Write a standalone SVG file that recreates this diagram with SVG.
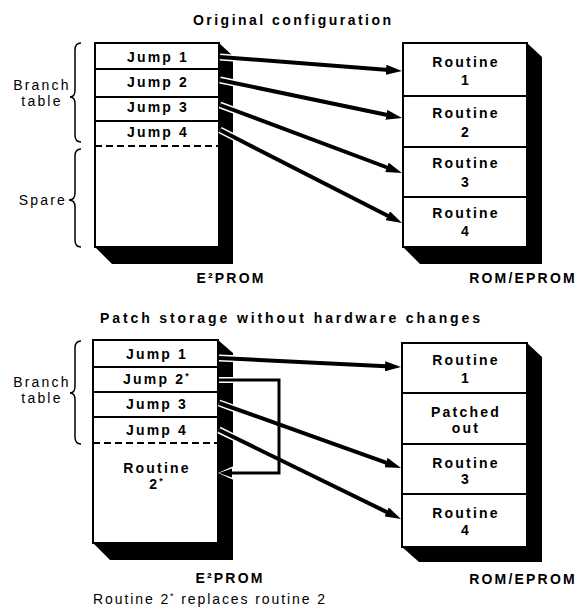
<svg xmlns="http://www.w3.org/2000/svg" width="576" height="609" viewBox="0 0 576 609">
<defs>
<style>
.b{font-family:"Liberation Sans",Arial,sans-serif;font-weight:bold;font-size:14px;letter-spacing:2.2px;fill:#000;text-anchor:middle}
.r{font-family:"Liberation Sans",Arial,sans-serif;font-size:14px;letter-spacing:2.2px;fill:#000}
.face{fill:#fff;stroke:#000;stroke-width:2}
.shadow{fill:#000}
.div{stroke:#000;stroke-width:2;fill:none}
.dash{stroke:#000;stroke-width:2;fill:none;stroke-dasharray:7 4}
.brace{stroke:#000;stroke-width:1.5;fill:none}
.arrow{stroke:#000;stroke-width:4;fill:none;marker-end:url(#ah)}
.case{stroke:#fff;stroke-width:7;fill:none}
.patch{stroke:#000;stroke-width:3;fill:none}
</style>
<marker id="ah" markerUnits="userSpaceOnUse" markerWidth="16" markerHeight="10" refX="6" refY="5" orient="auto" viewBox="0 0 16 10">
<path d="M0,0 L16,5 L0,10 z" fill="#000"/>
</marker>
</defs>

<text class="b" x="292" y="25" textLength="198" lengthAdjust="spacing" style="letter-spacing:0">Original configuration</text>
<text class="b" x="290" y="323" textLength="380" lengthAdjust="spacing" style="letter-spacing:0">Patch storage without hardware changes</text>

<g id="eprom-top">
<polygon class="shadow" points="219,43 233,56 233,264 112,264 95,247"/>
<rect class="face" x="95" y="43" width="124" height="204"/>
<line class="div" x1="95" y1="69" x2="219" y2="69"/>
<line class="div" x1="95" y1="97" x2="219" y2="97"/>
<line class="div" x1="95" y1="121" x2="219" y2="121"/>
<line class="dash" x1="95" y1="146" x2="219" y2="146"/>
<text class="b" x="158" y="62">Jump 1</text>
<text class="b" x="158" y="87">Jump 2</text>
<text class="b" x="158" y="112">Jump 3</text>
<text class="b" x="158" y="137">Jump 4</text>
<text class="b" x="231" y="283">E²PROM</text>
</g>

<g id="brace-top-branch">
<path class="brace" d="M81,43 Q75,43 75,50 L75,90 Q75,97 70,97 Q75,97 75,104 L75,135 Q75,142 81,142"/>
<text class="r" x="42" y="90" style="text-anchor:middle">Branch</text>
<text class="r" x="42" y="106" style="text-anchor:middle">table</text>
</g>

<g id="brace-spare">
<path class="brace" d="M81,149 Q75,149 75,156 L75,193 Q75,200 69,200 Q75,200 75,207 L75,240 Q75,247 81,247"/>
<text class="r" x="67" y="205" style="text-anchor:end">Spare</text>
</g>

<g id="rom-top">
<polygon class="shadow" points="527,43 542,57 542,264 420,264 403,247"/>
<rect class="face" x="403" y="43" width="124" height="204"/>
<line class="div" x1="403" y1="96" x2="527" y2="96"/>
<line class="div" x1="403" y1="147" x2="527" y2="147"/>
<line class="div" x1="403" y1="197" x2="527" y2="197"/>
<text class="b" x="466" y="67">Routine</text>
<text class="b" x="466" y="85">1</text>
<text class="b" x="466" y="118">Routine</text>
<text class="b" x="466" y="137">2</text>
<text class="b" x="466" y="168">Routine</text>
<text class="b" x="466" y="187">3</text>
<text class="b" x="466" y="218">Routine</text>
<text class="b" x="466" y="236">4</text>
<text class="b" x="523" y="283">ROM/EPROM</text>
</g>

<g id="eprom-bottom">
<polygon class="shadow" points="218,340 233,353 233,560 110,560 93,543"/>
<rect class="face" x="93" y="340" width="125" height="203"/>
<line class="div" x1="93" y1="367" x2="218" y2="367"/>
<line class="div" x1="93" y1="392" x2="218" y2="392"/>
<line class="div" x1="93" y1="417" x2="218" y2="417"/>
<line class="dash" x1="93" y1="443" x2="218" y2="443"/>
<text class="b" x="157" y="359">Jump 1</text>
<text class="b" x="157" y="384">Jump 2<tspan font-size="9" dy="-5">*</tspan></text>
<text class="b" x="157" y="409">Jump 3</text>
<text class="b" x="157" y="435">Jump 4</text>
<text class="b" x="157" y="473">Routine</text>
<text class="b" x="157" y="489">2<tspan font-size="9" dy="-5">*</tspan></text>
<text class="b" x="230" y="583">E²PROM</text>
</g>

<g id="brace-bottom-branch">
<path class="brace" d="M81,341 Q75,341 75,348 L75,386 Q75,393 70,393 Q75,393 75,400 L75,437 Q75,444 81,444"/>
<text class="r" x="42" y="387" style="text-anchor:middle">Branch</text>
<text class="r" x="42" y="403" style="text-anchor:middle">table</text>
</g>

<g id="rom-bottom">
<polygon class="shadow" points="527,343 542,357 542,562 419,562 402,547"/>
<rect class="face" x="402" y="343" width="125" height="204"/>
<line class="div" x1="402" y1="393" x2="527" y2="393"/>
<line class="div" x1="402" y1="444" x2="527" y2="444"/>
<line class="div" x1="402" y1="494" x2="527" y2="494"/>
<text class="b" x="466" y="365">Routine</text>
<text class="b" x="466" y="383">1</text>
<text class="b" x="466" y="417">Patched</text>
<text class="b" x="466" y="433">out</text>
<text class="b" x="466" y="468">Routine</text>
<text class="b" x="466" y="484">3</text>
<text class="b" x="466" y="518">Routine</text>
<text class="b" x="466" y="535">4</text>
<text class="b" x="523" y="584">ROM/EPROM</text>
</g>

<g id="connectors">
<line class="case" x1="220" y1="57" x2="236" y2="58.2"/>
<line class="case" x1="220" y1="80" x2="236" y2="83.3"/>
<line class="case" x1="220" y1="105" x2="236" y2="111"/>
<line class="case" x1="220" y1="130" x2="236" y2="138.2"/>
<line class="arrow" x1="220" y1="57" x2="392" y2="70.2"/>
<line class="arrow" x1="220" y1="80" x2="392.2" y2="116"/>
<line class="arrow" x1="220" y1="105" x2="392.6" y2="169.5"/>
<line class="arrow" x1="220" y1="130" x2="393.1" y2="218.5"/>

<line class="case" x1="219" y1="358" x2="236" y2="358.8"/>
<line class="case" x1="219" y1="403" x2="236" y2="409.1"/>
<line class="case" x1="219" y1="430" x2="236" y2="438.4"/>
<line class="arrow" x1="219" y1="358" x2="391" y2="366.5"/>
<line class="arrow" x1="219" y1="403" x2="391.6" y2="464.6"/>
<line class="arrow" x1="219" y1="430" x2="392" y2="514.6"/>

<polyline class="case" points="219,380 236,380" style="stroke-width:6"/>
<polygon points="218,473 236,465 236,481" fill="#fff"/>
<polyline class="patch" points="219,380 279,380 279,473 230,473"/>
<polygon points="219,473 232,468.5 232,477.5" fill="#000"/>
</g>

<text class="r" x="93" y="604" textLength="232" lengthAdjust="spacing" style="letter-spacing:0">Routine 2<tspan font-size="9" dy="-5">*</tspan><tspan dy="5"> replaces routine 2</tspan></text>
</svg>
